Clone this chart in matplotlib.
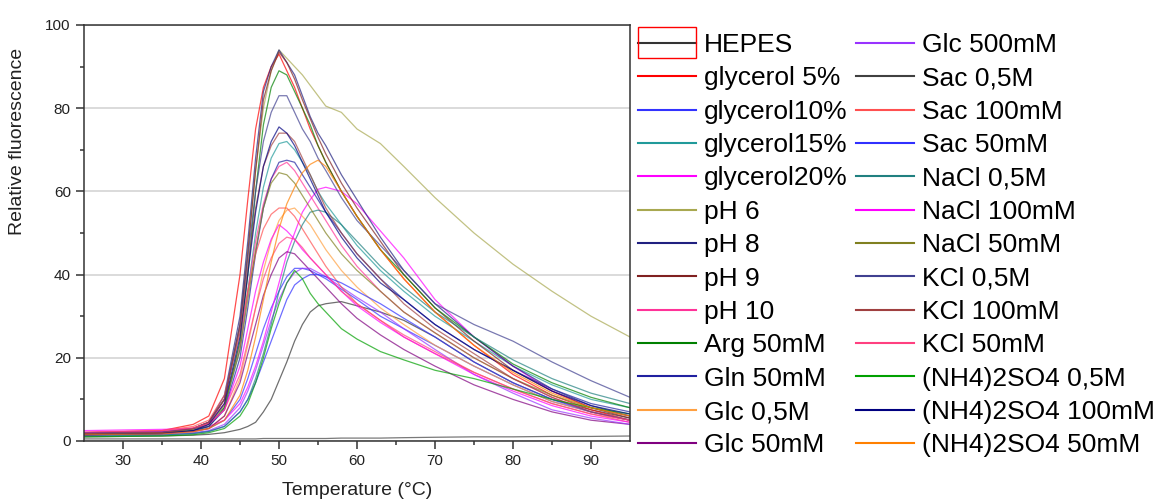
import numpy as np
import matplotlib.pyplot as plt
from matplotlib.legend_handler import HandlerLine2D
from matplotlib.patches import Rectangle

plt.rcParams['font.family'] = ['Liberation Sans', 'DejaVu Sans']

# temperature grid (deg C)
temps = [25, 35, 39, 41, 43, 45, 46, 47, 48, 49, 50, 51, 52, 53, 54, 55, 56, 58, 60, 63, 66, 70, 75, 80, 85, 90, 95]

# relative fluorescence, one list per condition
hepes = [1.0, 1.2, 1.4, 1.6, 2.0, 2.8, 3.5, 4.5, 7, 10, 14.5, 19, 24, 28, 31, 32.5, 33, 33.5, 32.5, 31, 29, 25, 19, 14, 10, 7.5, 5.5]
glycerol5 = [2, 2.5, 4, 6, 15, 40, 58, 75, 85, 90, 93, 89, 85, 80, 75, 71, 67, 60, 54, 46, 39, 31, 23, 16, 11, 7.5, 5]
glycerol10 = [1.8, 2, 2.4, 3, 5, 10, 15, 21, 27, 32, 36, 39.5, 41.5, 41.5, 41, 40, 39, 36.5, 34, 30, 27, 23, 18, 13.5, 9.5, 7, 5]
glycerol15 = [1.5, 1.8, 2.5, 3.5, 8, 22, 36, 50, 61, 68, 71.5, 72, 70, 67, 64, 60, 57, 52, 47, 41, 36, 30, 24, 18, 13.5, 10, 8]
glycerol20 = [2.5, 2.8, 3, 3.5, 5, 9, 13, 18, 24, 31, 38, 45, 50, 55, 58, 60.5, 61, 60, 57, 50.5, 44, 34, 25, 18, 12, 8, 6]
ph6 = [1.8, 2, 3, 4.5, 10, 28, 46, 65, 80, 89, 94, 92, 90, 88, 85.5, 83, 80.5, 79, 75, 71.5, 66, 58.5, 50, 42.5, 36, 30, 25]
ph8 = [1.5, 2, 3, 4.5, 11, 30, 48, 68, 84, 90, 94, 91, 88, 83, 78, 74, 71, 64, 58, 49, 41, 33, 25, 18, 12.5, 8.5, 6]
ph9 = [1.8, 2.1, 3, 4.5, 10, 28, 45, 65, 82, 89, 93.5, 91, 87, 82, 77.5, 73, 69, 62, 56, 48, 40, 32, 24, 17, 12, 8, 5.5]
ph10 = [2, 2.3, 3, 4.5, 9, 23, 36, 48, 57, 63, 66, 67, 65, 62, 59, 56, 53, 47, 42, 36, 31, 26, 20, 15, 10.5, 7, 5]
arg50 = [1.5, 1.8, 2.5, 3.5, 8, 24, 40, 60, 76, 85, 89, 88, 84, 80, 76, 71, 67, 60, 54, 46, 40, 32, 25, 18.5, 14, 10.5, 8]
gln50 = [1.5, 1.8, 2.5, 3.5, 7.5, 20, 32, 45, 56, 63, 67, 67.5, 67, 64, 61, 58, 55, 50, 45, 39, 34, 28, 22, 17, 12.5, 9, 7]
glc05 = [1.5, 1.8, 2.3, 3, 6, 15, 23, 32, 41, 48, 53, 55.5, 56, 54, 52, 49, 46, 41, 37, 32, 28, 23, 18, 13.5, 9.5, 7, 5]
glc50 = [1.5, 1.8, 2.3, 3, 6, 14, 21, 28, 35, 40, 44, 45.5, 45, 43, 41, 39, 37, 33, 29.5, 25.5, 22, 18, 13.5, 10, 7, 5, 4]
glc500 = [1.5, 1.7, 2, 2.5, 4, 8, 12, 17, 23, 29, 34, 38, 40.5, 41.5, 41.5, 40.5, 39.5, 37, 34.5, 31, 27, 22, 16, 11.5, 7.5, 5.5, 4]
sac05 = [0.5, 0.5, 0.5, 0.5, 0.5, 0.5, 0.5, 0.5, 0.6, 0.6, 0.6, 0.6, 0.6, 0.6, 0.6, 0.6, 0.6, 0.7, 0.7, 0.7, 0.8, 0.9, 1.0, 1.0, 1.1, 1.1, 1.2]
sac100 = [2, 2.5, 3.5, 5, 11, 26, 36, 45, 51, 54.5, 56, 56, 54, 51, 48, 45, 42, 37, 33, 29, 25, 21, 16.5, 12.5, 9, 6.5, 4.5]
sac50 = [1.3, 1.5, 1.8, 2.3, 3.5, 7, 10, 14, 19, 24, 29, 34, 37.5, 39, 40, 40, 39.5, 38, 36, 33, 29.5, 25, 19, 14, 10, 7, 5]
nacl05 = [1.2, 1.4, 1.8, 2.3, 3.5, 7, 10, 15, 21, 28, 36, 43, 48, 52, 55, 55.5, 55, 52, 48, 42, 37, 31, 25, 19.5, 15, 11.5, 9]
nacl100 = [2, 2.2, 3, 4, 7.5, 18, 27, 36, 43, 48.5, 52, 50.5, 48.5, 46, 44, 42, 40, 36, 32.5, 28.5, 25, 21, 16, 12, 8.5, 6, 4.5]
nacl50 = [1.8, 2, 2.8, 4, 8.5, 22, 34, 46, 56, 62, 64.5, 64, 62, 59, 56, 53, 50, 45, 41, 36, 31, 26, 20, 15, 11, 8, 6]
kcl05 = [2, 2.2, 3, 4.5, 10, 28, 44, 60, 72, 79, 83, 83, 79, 75, 72, 68, 65, 58.5, 53, 47, 41, 33, 28, 24, 19, 14.5, 10.5]
kcl100 = [1.8, 2, 3, 4.5, 10, 27, 42, 56, 66, 71, 74, 74, 72, 68, 64, 60, 56, 50, 45, 39, 33, 27, 21, 15, 10.5, 7, 5]
kcl50 = [2.2, 2.5, 3.2, 4.2, 7.5, 16, 24, 32, 39, 44, 47.5, 49, 48.5, 46.5, 44, 42, 40, 36, 33, 29, 25.5, 21.5, 16.5, 12.5, 9, 6.5, 5]
amso4_05 = [1, 1.2, 1.5, 2, 3, 6, 9, 14, 20, 27, 33, 38, 41, 39, 35.5, 33, 31, 27, 24.5, 21.5, 19.5, 17, 15, 12.5, 10, 8, 6.5]
amso4_100 = [1.5, 1.8, 2.5, 4, 9, 25, 40, 55, 66, 72, 75.5, 74, 71, 67, 63, 59, 55, 49, 44, 38, 34, 28, 22, 17, 12, 8.5, 6.5]
amso4_50 = [1.5, 1.7, 2.2, 3, 5, 11, 17, 25, 34, 43, 51, 57, 61, 64.5, 66.5, 67.5, 66, 60, 54, 46, 39, 31, 23, 16.5, 11.5, 8, 6]

labels = ["HEPES", "glycerol 5%", "glycerol10%", "glycerol15%", "glycerol20%",
          "pH 6", "pH 8", "pH 9", "pH 10", "Arg 50mM", "Gln 50mM", "Glc 0,5M", "Glc 50mM",
          "Glc 500mM", "Sac 0,5M", "Sac 100mM", "Sac 50mM", "NaCl 0,5M", "NaCl 100mM",
          "NaCl 50mM", "KCl 0,5M", "KCl 100mM", "KCl 50mM", "(NH4)2SO4 0,5M",
          "(NH4)2SO4 100mM", "(NH4)2SO4 50mM"]
series = [hepes, glycerol5, glycerol10, glycerol15, glycerol20, ph6, ph8, ph9, ph10,
          arg50, gln50, glc05, glc50, glc500, sac05, sac100, sac50, nacl05, nacl100,
          nacl50, kcl05, kcl100, kcl50, amso4_05, amso4_100, amso4_50]
colors = ["#333333", "#ff0000", "#3333ff", "#209a9a", "#ff00ff", "#a8a850", "#202080",
          "#802020", "#ff3399", "#008000", "#2020a0", "#ffa040", "#800080", "#9933ff",
          "#404040", "#ff5050", "#3030ff", "#208080", "#ff00ff", "#808020", "#404090",
          "#a04040", "#ff4080", "#00a000", "#000080", "#ff8000"]


class BoxedLine(HandlerLine2D):
    # legend line with the red selection box drawn round it
    def create_artists(self, legend, orig_handle, xdescent, ydescent,
                       width, height, fontsize, trans):
        arts = super().create_artists(legend, orig_handle, xdescent, ydescent,
                                      width, height, fontsize, trans)
        box = Rectangle((-xdescent, -ydescent - 0.35 * height), width, 1.7 * height,
                        fill=False, edgecolor="red", lw=1.0, transform=trans)
        return list(arts) + [box]


fig = plt.figure(figsize=(11.61, 4.99), dpi=100)
ax = fig.add_axes([84 / 1161, 1 - 441 / 499, 546 / 1161, 416 / 499])

lines = []
for lab, vals, col in zip(labels, series, colors):
    ln, = ax.plot(temps, vals, color=col, lw=0.9, alpha=0.7, label=lab)
    lines.append(ln)

ax.set_xlim(25, 95)
ax.set_ylim(0, 100)
ax.set_xticks([30, 40, 50, 60, 70, 80, 90])
ax.set_xticks([35, 45, 55, 65, 75, 85], minor=True)
ax.set_yticks([0, 20, 40, 60, 80, 100])
ax.set_yticks([10, 30, 50, 70, 90], minor=True)
ax.grid(axis="y", which="major", color="#d4d4d4", lw=1.2)
ax.set_axisbelow(True)
for s in ax.spines.values():
    s.set_color("#333333")
    s.set_linewidth(1.1)
ax.tick_params(which="major", direction="out", length=5.5, width=1.1, color="#333333",
               labelsize=11, pad=4, labelcolor="#222222")
ax.tick_params(which="minor", direction="out", length=3, width=1.1, color="#333333")

ax.set_xlabel("Temperature (\u00b0C)", fontsize=14, color="#222222", va="center")
ax.xaxis.set_label_coords(0.5, -0.118)
ax.set_ylabel("Relative fluorescence", fontsize=14, color="#222222", va="center")
ax.yaxis.set_label_coords(-0.122, 0.72)

leg = fig.legend(lines, labels, ncol=2, loc="upper left",
                 bbox_to_anchor=(638 / 1161, 1 - 33 / 499), frameon=False,
                 fontsize=19, borderpad=0, borderaxespad=0, handlelength=2.2,
                 handletextpad=0.3, columnspacing=0.3, labelspacing=0.355,
                 handler_map={lines[0]: BoxedLine()})
for h in leg.legend_handles:
    h.set_alpha(1)
    h.set_linewidth(1.5)

fig.savefig("out.png", dpi=100)
